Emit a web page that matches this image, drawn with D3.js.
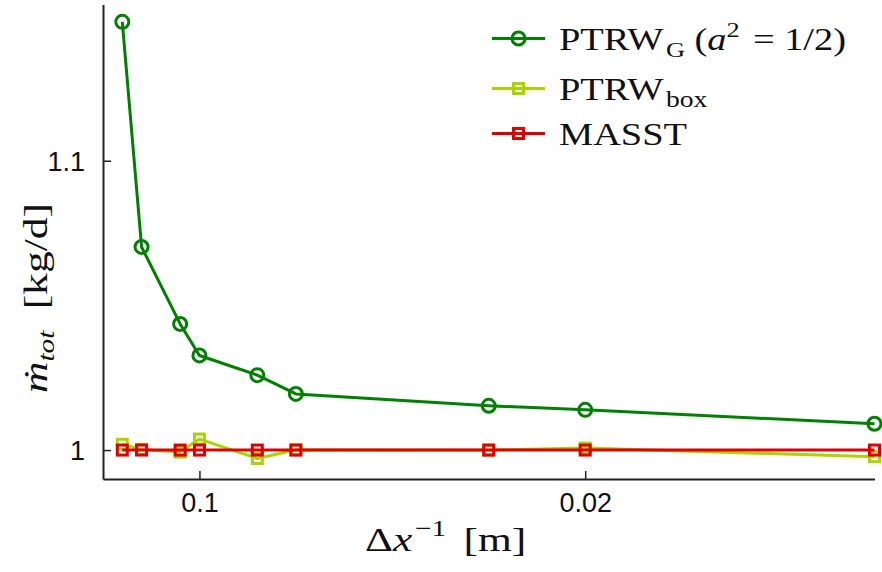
<!DOCTYPE html>
<html>
<head>
<meta charset="utf-8">
<script src="https://cdn.jsdelivr.net/npm/d3@7"></script>
<style>
  body { margin: 0; background: #fff; }
  svg { display: block; }
</style>
</head>
<body>
<svg id="chart" width="882" height="572"></svg>
<script>
// Grid spacing Δx [m]; plotted as Δx^-1
const dx = [0.5, 0.25, 0.125, 0.1, 0.0625, 0.05, 0.025, 0.02, 0.0125];
const ptrwG = [1.148, 1.0702, 1.0436, 1.0327, 1.0259, 1.0194, 1.0153, 1.0139, 1.0091];
const ptrwBox = [1.0020, 1.0002, 0.9993, 1.0038, 0.9971, 1.0001, 1.0000, 1.0007, 0.9977];
const masst = [1, 1, 1, 1, 1, 1, 1, 1, 1];
const xTickValues = [0.1, 0.02];
const yTickValues = [1, 1.1];

const series = [
  { name: "G", values: ptrwG, color: "#008000", marker: "circle" },
  { name: "box", values: ptrwBox, color: "#aad400", marker: "square" },
  { name: "MASST", values: masst, color: "#dd0000", marker: "square" }
];

const svg = d3.select("#chart");
const x = d3.scaleLinear().domain([0, 80]).range([103, 874.5]);
const y = d3.scaleLinear().domain([0.99, 1.154]).range([479, 4.5]);

// axes
const xAxis = d3.axisBottom(x)
  .tickValues(xTickValues.map(v => 1 / v))
  .tickFormat((d, i) => String(xTickValues[i]))
  .tickSizeInner(-8).tickSizeOuter(0).tickPadding(14);
const yAxis = d3.axisLeft(y)
  .tickValues(yTickValues)
  .tickFormat(d => d === 1 ? "1" : "1.1")
  .tickSizeInner(-8).tickSizeOuter(0).tickPadding(18);

const gx = svg.append("g").attr("transform", `translate(0,${y(0.99)})`).call(xAxis);
const gy = svg.append("g").attr("transform", `translate(${x(0)},0)`).call(yAxis);
[gx, gy].forEach(g => {
  g.select(".domain").attr("stroke", "#222").attr("stroke-width", 2);
  g.selectAll(".tick line").attr("stroke", "#222").attr("stroke-width", 1.5);
  g.selectAll(".tick text").attr("fill", "#111")
    .style("font-family", "'Liberation Sans', Arial, sans-serif")
    .style("font-size", "27px");
});
gy.selectAll(".tick text").attr("dy", "0.36em");

// lines & markers
const line = d3.line().x((d, i) => x(1 / dx[i])).y(d => y(d));
series.forEach(s => {
  svg.append("path").datum(s.values)
    .attr("d", line)
    .attr("fill", "none")
    .attr("stroke", s.color)
    .attr("stroke-width", 3)
    .attr("stroke-linejoin", "round");
  const g = svg.append("g");
  if (s.marker === "circle") {
    g.selectAll("circle").data(s.values).join("circle")
      .attr("cx", (d, i) => x(1 / dx[i]))
      .attr("cy", d => y(d))
      .attr("r", 6.5)
      .attr("fill", "none")
      .attr("stroke", s.color)
      .attr("stroke-width", 3);
  } else {
    g.selectAll("rect").data(s.values).join("rect")
      .attr("x", (d, i) => x(1 / dx[i]) - 5)
      .attr("y", d => y(d) - 5)
      .attr("width", 10).attr("height", 10)
      .attr("fill", "none")
      .attr("stroke", s.color)
      .attr("stroke-width", 3);
  }
});

const serif = "'Liberation Serif', 'DejaVu Serif', serif";
function stretchedText(parent, size, sx, build) {
  const g = parent.append("g");
  const t = g.append("text").attr("x", 0).attr("y", 0)
    .attr("transform", `scale(${sx},1)`)
    .style("font-family", serif).style("font-size", size + "px").attr("fill", "#111");
  build(t);
  return g;
}

// legend
const legY = [38.5, 88.5, 133.5];
series.forEach((s, k) => {
  const ly = legY[k];
  svg.append("line").attr("x1", 492).attr("x2", 545).attr("y1", ly).attr("y2", ly)
    .attr("stroke", s.color).attr("stroke-width", 3);
  if (s.marker === "circle") {
    svg.append("circle").attr("cx", 518.5).attr("cy", ly).attr("r", 6.5)
      .attr("fill", "none").attr("stroke", s.color).attr("stroke-width", 3);
  } else {
    svg.append("rect").attr("x", 513.5).attr("y", ly - 5).attr("width", 10).attr("height", 10)
      .attr("fill", "none").attr("stroke", s.color).attr("stroke-width", 3);
  }
});
const LS = 1.2;
stretchedText(svg, 32, LS, t => {
  t.append("tspan").text("PTRW");
  t.append("tspan").text("G").style("font-size", "22px").attr("dy", 7).attr("dx", 2);
  t.append("tspan").text(" (").attr("dy", -7);
  t.append("tspan").text("a").style("font-style", "italic");
  t.append("tspan").text("2").style("font-size", "22px").attr("dy", -13);
  t.append("tspan").text(" = 1/2)").attr("dy", 13).attr("dx", 3);
}).attr("transform", `translate(559,${legY[0] + 11})`);
stretchedText(svg, 32, LS, t => {
  t.append("tspan").text("PTRW");
  t.append("tspan").text("box").style("font-size", "23px").attr("dy", 7).attr("dx", 2);
}).attr("transform", `translate(559,${legY[1] + 11})`);
stretchedText(svg, 32, LS, t => {
  t.append("tspan").text("MASST");
}).attr("transform", `translate(559,${legY[2] + 11})`);

// axis titles
stretchedText(svg, 34, 1.28, t => {
  t.append("tspan").text("Δ");
  t.append("tspan").text("x").style("font-style", "italic");
  t.append("tspan").text("−1").style("font-size", "23px").attr("dy", -15).attr("dx", 2);
  t.append("tspan").text(" [m]").attr("dy", 15).attr("dx", 5);
}).attr("transform", "translate(365,551)");

stretchedText(svg, 34, 1.28, t => {
  t.append("tspan").text("ṁ").style("font-style", "italic");
  t.append("tspan").text("tot").style("font-style", "italic").style("font-size", "23px").attr("dy", 7);
  t.append("tspan").text(" [kg/d]").attr("dy", -7).attr("dx", 8);
}).attr("transform", "translate(47,393) rotate(-90)");
</script>
</body>
</html>
